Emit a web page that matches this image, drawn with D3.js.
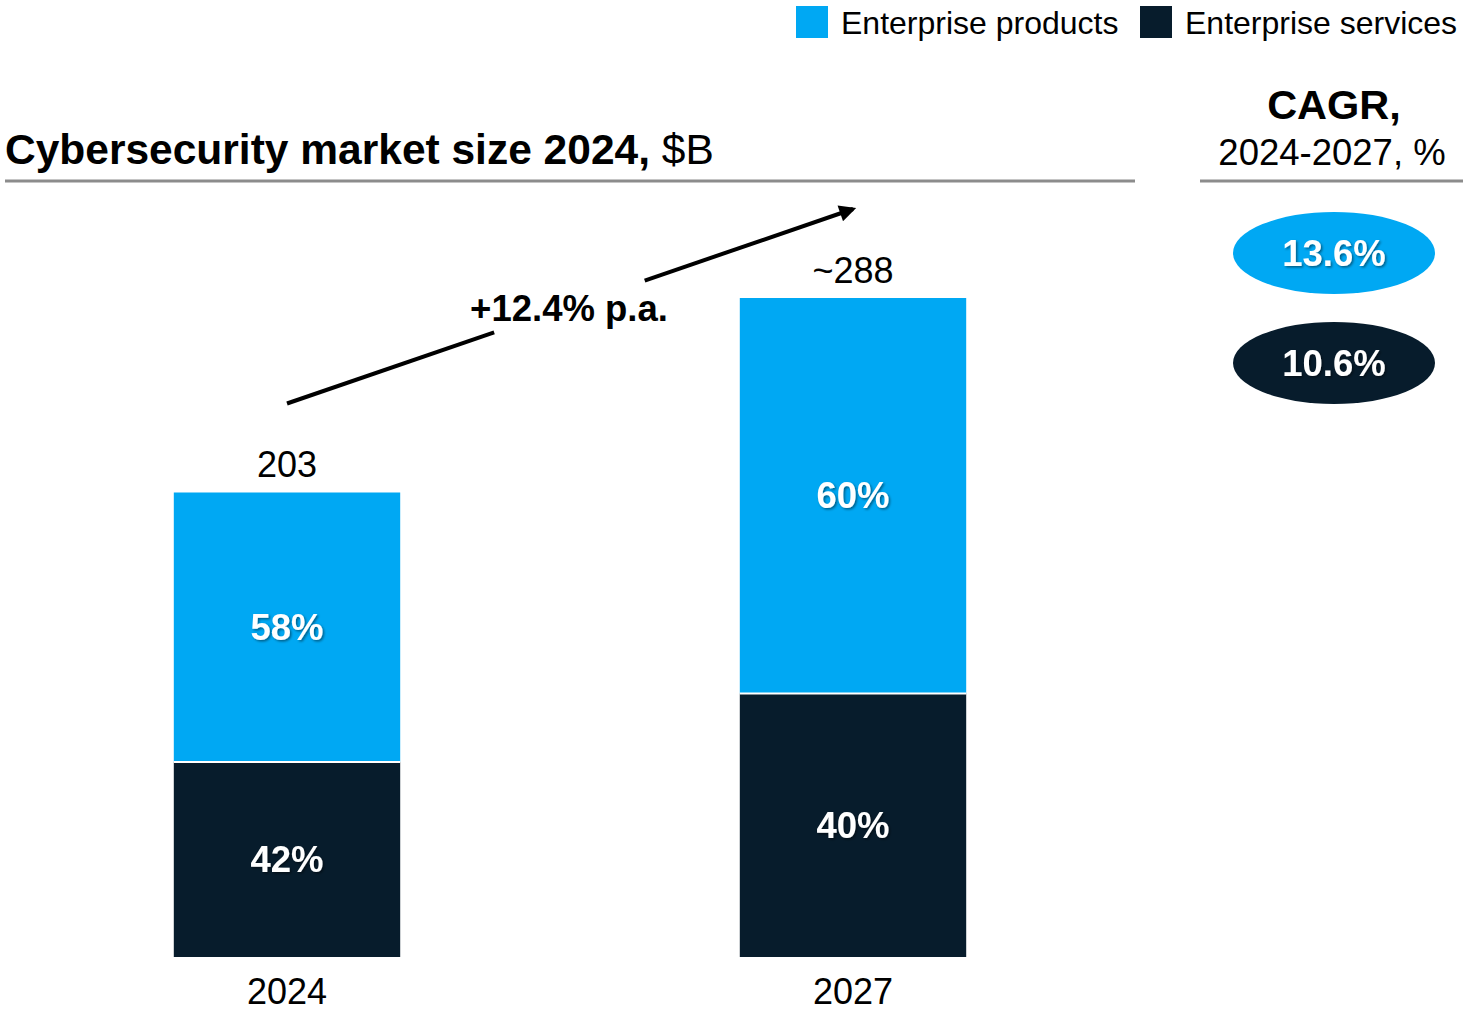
<!DOCTYPE html>
<html>
<head>
<meta charset="utf-8">
<script src="https://cdn.jsdelivr.net/npm/d3@7"></script>
<style>
  html, body { margin: 0; padding: 0; background: #fff; }
  svg { display: block; font-family: "Liberation Sans", Arial, sans-serif; }
</style>
</head>
<body>
<svg id="chart" width="1463" height="1012"></svg>
<script>
// Market size by year ($B) and the split between the two segments (%)
const years = ["2024", "2027"];
const totals = [203, 288];
const totalLabels = ["203", "~288"];
const productsShare = [58, 60];
const servicesShare = [42, 40];
const seriesNames = ["Enterprise products", "Enterprise services"];
const cagrValues = ["13.6%", "10.6%"];
const growthLabel = "+12.4% p.a.";

const colors = { products: "#00A8F3", services: "#071C2C" };

const svg = d3.select("#chart");
const defs = svg.append("defs");
const shadow = defs.append("filter").attr("id", "txtShadow")
  .attr("x", "-20%").attr("y", "-20%").attr("width", "140%").attr("height", "140%");
shadow.append("feDropShadow")
  .attr("dx", 1.5).attr("dy", 1.5).attr("stdDeviation", 1)
  .attr("flood-color", "#000").attr("flood-opacity", 0.45);

// Scales
const x = d3.scaleBand().domain(years).range([4, 1136]).paddingInner(0.6).paddingOuter(0.3);
const y = d3.scaleLinear().domain([0, 288]).range([957, 298]);
const cx = d => x(d) + x.bandwidth() / 2;

// Legend
const legend = svg.append("g");
const legendX = [796, 1140];
seriesNames.forEach((name, i) => {
  legend.append("rect").attr("x", legendX[i]).attr("y", 6).attr("width", 32).attr("height", 32)
    .attr("fill", i === 0 ? colors.products : colors.services);
  legend.append("text").attr("x", legendX[i] + 45).attr("y", 34)
    .attr("font-size", 32).attr("fill", "#000").text(name);
});

// Title and rule
const title = svg.append("text").attr("x", 5).attr("y", 164).attr("font-size", 42.5).attr("fill", "#000");
title.append("tspan").attr("font-weight", "bold").text("Cybersecurity market size 2024,");
title.append("tspan").text(" $B");
svg.append("line").attr("x1", 5).attr("x2", 1135).attr("y1", 181).attr("y2", 181)
  .attr("stroke", "#8c8c8c").attr("stroke-width", 3);

// CAGR header
svg.append("text").attr("x", 1334).attr("y", 119).attr("text-anchor", "middle")
  .attr("font-size", 41.5).attr("font-weight", "bold").text("CAGR,");
svg.append("text").attr("x", 1332).attr("y", 165).attr("text-anchor", "middle")
  .attr("font-size", 36.5).text("2024-2027, %");
svg.append("line").attr("x1", 1200).attr("x2", 1463).attr("y1", 181).attr("y2", 181)
  .attr("stroke", "#8c8c8c").attr("stroke-width", 3);

// CAGR ovals
const ovalY = [253, 363];
cagrValues.forEach((v, i) => {
  svg.append("ellipse").attr("cx", 1334).attr("cy", ovalY[i]).attr("rx", 101).attr("ry", 41)
    .attr("fill", i === 0 ? colors.products : colors.services);
  svg.append("text").attr("x", 1334).attr("y", ovalY[i]).attr("dy", "0.35em")
    .attr("text-anchor", "middle").attr("font-size", 36.5).attr("font-weight", "bold")
    .attr("fill", "#fff").attr("filter", "url(#txtShadow)").text(v);
});

// Stacked bars
const data = years.map((yr, i) => ({
  year: yr,
  total: totals[i],
  services: totals[i] * servicesShare[i] / 100,
  products: totals[i] * productsShare[i] / 100,
  sShare: servicesShare[i],
  pShare: productsShare[i],
  label: totalLabels[i]
}));

const bars = svg.append("g");
data.forEach(d => {
  const segs = [
    { key: "services", y0: 0, y1: d.services, share: d.sShare },
    { key: "products", y0: d.services, y1: d.total, share: d.pShare }
  ];
  segs.forEach(s => {
    bars.append("rect")
      .attr("x", x(d.year)).attr("width", x.bandwidth())
      .attr("y", y(s.y1)).attr("height", y(s.y0) - y(s.y1))
      .attr("fill", colors[s.key]);
    bars.append("text")
      .attr("x", cx(d.year)).attr("y", (y(s.y0) + y(s.y1)) / 2).attr("dy", "0.35em")
      .attr("text-anchor", "middle").attr("font-size", 36.5).attr("font-weight", "bold")
      .attr("fill", "#fff").attr("filter", "url(#txtShadow)")
      .text(s.share + "%");
  });
  // thin white separator between the two segments
  bars.append("line")
    .attr("x1", x(d.year)).attr("x2", x(d.year) + x.bandwidth())
    .attr("y1", y(d.services)).attr("y2", y(d.services))
    .attr("stroke", "#fff").attr("stroke-width", 2);
  bars.append("text").attr("x", cx(d.year)).attr("y", y(d.total) - 15)
    .attr("text-anchor", "middle").attr("font-size", 36).text(d.label);
});

// Category axis (labels only)
const xAxis = svg.append("g").attr("transform", "translate(0,957)")
  .call(d3.axisBottom(x).tickSize(0).tickPadding(47));
xAxis.select(".domain").remove();
xAxis.selectAll("text").attr("font-size", 36).attr("fill", "#000")
  .attr("font-family", "\"Liberation Sans\", Arial, sans-serif").attr("dy", 0);

// Growth arrow between the bar tops, broken around its label
const p0 = [cx(years[0]), y(totals[0]) - 89];
const p1 = [cx(years[1]), y(totals[1]) - 89];
const at = t => [p0[0] + (p1[0] - p0[0]) * t, p0[1] + (p1[1] - p0[1]) * t];
const gapA = at(0.366), gapB = at(0.632);
defs.append("marker").attr("id", "arrowHead").attr("viewBox", "0 0 10 10")
  .attr("refX", 8).attr("refY", 5).attr("markerWidth", 5).attr("markerHeight", 4.2)
  .attr("markerUnits", "strokeWidth").attr("orient", "auto")
  .append("path").attr("d", "M0,0 L10,5 L0,10 Z").attr("fill", "#000");
svg.append("line").attr("x1", p0[0]).attr("y1", p0[1]).attr("x2", gapA[0]).attr("y2", gapA[1])
  .attr("stroke", "#000").attr("stroke-width", 4);
svg.append("line").attr("x1", gapB[0]).attr("y1", gapB[1]).attr("x2", p1[0]).attr("y2", p1[1])
  .attr("stroke", "#000").attr("stroke-width", 4).attr("marker-end", "url(#arrowHead)");
svg.append("text").attr("x", 569).attr("y", 321).attr("text-anchor", "middle")
  .attr("font-size", 36.5).attr("font-weight", "bold").text(growthLabel);
</script>
</body>
</html>
